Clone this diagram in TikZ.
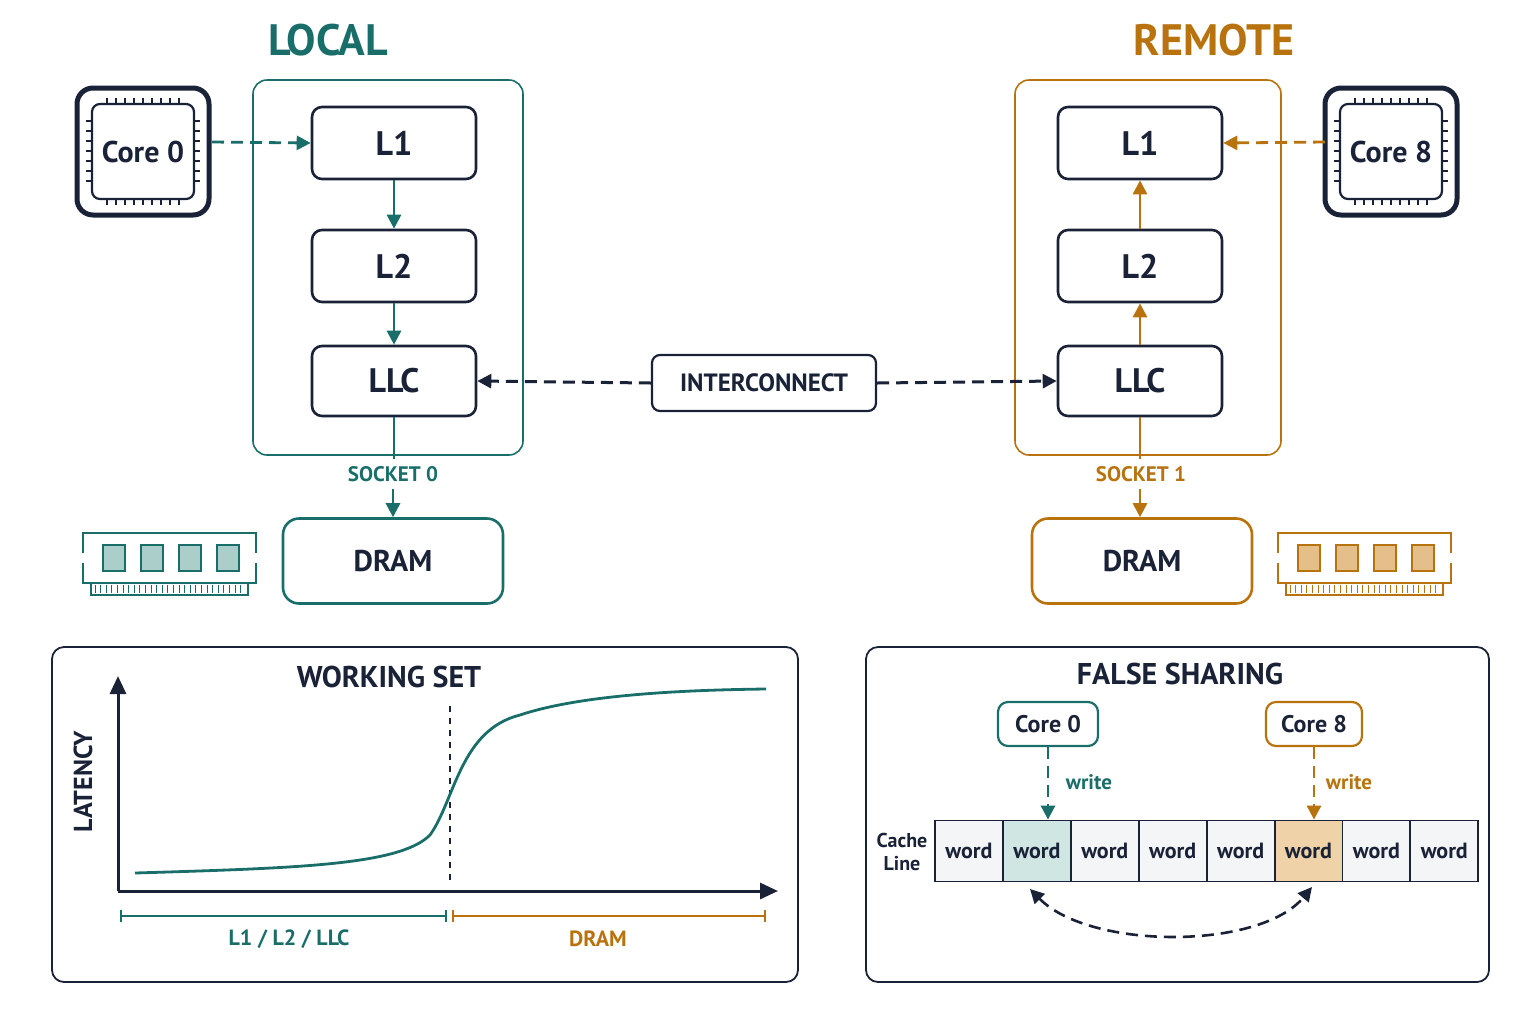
\documentclass[tikz,border=0pt]{standalone}
\usepackage{fontspec}
\setmainfont{PT Sans}
\usetikzlibrary{arrows.meta}
\definecolor{teal}{HTML}{1A6E6A}
\definecolor{org}{HTML}{B8730F}
\definecolor{navy}{HTML}{1A2238}
\definecolor{tfill}{HTML}{CFE6E3}
\definecolor{ofill}{HTML}{EFD2A8}
\definecolor{cell}{HTML}{F4F5F6}
\tikzset{
 cache/.style={draw=navy,line width=1.3pt,rounded corners=5pt,fill=white,font=\bfseries\fontsize{17}{17}\selectfont,text=navy},
 sock/.style={line width=0.8pt,rounded corners=7pt},
 dram/.style={line width=1.3pt,rounded corners=8pt,font=\bfseries\fontsize{15}{15}\selectfont,text=navy},
 arr/.style={-{Triangle[length=7pt,width=7pt]},line width=1.4pt},
 dsh/.style={dash pattern=on 6pt off 3.5pt},
 lbl/.style={font=\bfseries\fontsize{10.5}{10.5}\selectfont},
 panel/.style={draw=navy,line width=0.9pt,rounded corners=6pt},
}
\begin{document}
\begin{tikzpicture}[x=0.5pt,y=-0.5pt]
\useasboundingbox (0,0) rectangle (1536,1024);
% titles
\node[font=\bfseries\fontsize{22}{22}\selectfont,text=teal] (tl) at (328,40) {LOCAL};
\node[font=\bfseries\fontsize{22}{22}\selectfont,text=org] (tr) at (1214,40) {REMOTE};
% socket boxes
\draw[sock,teal] (253,80) rectangle (523,455);
\draw[sock,org] (1015,80) rectangle (1281,455);
% caches
\node[cache,minimum width=82pt,minimum height=36pt] (l1a) at (394,143) {L1};
\node[cache,minimum width=82pt,minimum height=36pt] (l2a) at (394,266) {L2};
\node[cache,minimum width=82pt,minimum height=35pt] (llca) at (394,381) {LLC};
\draw[arr,teal] (l1a) -- (l2a);
\draw[arr,teal] (l2a) -- (llca);
\node[cache,minimum width=82pt,minimum height=36pt] (l1b) at (1140,143) {L1};
\node[cache,minimum width=82pt,minimum height=36pt] (l2b) at (1140,266) {L2};
\node[cache,minimum width=82pt,minimum height=35pt] (llcb) at (1140,381) {LLC};
\draw[arr,org] (l2b) -- (l1b);
\draw[arr,org] (llcb) -- (l2b);
% sockets labels and DRAM
\node[lbl,text=teal] (s0) at (393,474) {SOCKET 0};
\node[lbl,text=org] (s1) at (1141,474) {SOCKET 1};
\node[dram,draw=teal,minimum width=110pt,minimum height=42.5pt] (da) at (393,561) {DRAM};
\node[dram,draw=org,minimum width=110pt,minimum height=42.5pt] (db) at (1142,561) {DRAM};
\draw[teal,line width=1.4pt] (llca.south) -- (llca.south |- s0.north);
\draw[arr,teal] (s0.south -| da.north) -- (da.north);
\draw[org,line width=1.4pt] (llcb.south) -- (llcb.south |- s1.north);
\draw[arr,org] (s1.south -| llcb.south) -- (llcb.south |- db.north);
% chips
\foreach \cx/\nm/\lab in {143/ca/Core 0,1391/cb/Core 8}{
 \draw[navy,line width=2.5pt,rounded corners=8pt] (\cx-66,88) rectangle (\cx+66,215);
 \draw[navy,line width=1.1pt,rounded corners=4pt] (\cx-51,104) rectangle (\cx+51,199);
 \foreach \i in {-4,...,4}{
  \draw[navy,line width=0.6pt] (\cx+\i*9,98) -- (\cx+\i*9,104);
  \draw[navy,line width=0.6pt] (\cx+\i*9,199) -- (\cx+\i*9,205);}
 \foreach \i in {-3,...,3}{
  \draw[navy,line width=0.6pt] (\cx-57,151+\i*10) -- (\cx-51,151+\i*10);
  \draw[navy,line width=0.6pt] (\cx+51,151+\i*10) -- (\cx+57,151+\i*10);}
 \node[font=\fontsize{15}{15}\selectfont\bfseries,text=navy] (\nm) at (\cx,152) {\lab};
}
\coordinate (cao) at (212,142);
\coordinate (cbo) at (1325,142);
\draw[arr,dsh,teal] (cao) -- (l1a.west);
\draw[arr,dsh,org] (cbo) -- (l1b.east);
% interconnect
\node[draw=navy,line width=1.1pt,rounded corners=4pt,minimum width=112pt,minimum height=28pt,font=\bfseries\fontsize{12.5}{12.5}\selectfont,text=navy] (ic) at (764,383) {INTERCONNECT};
\draw[arr,dsh,navy,line width=1.5pt] (ic.west) -- (llca.east);
\draw[arr,dsh,navy,line width=1.5pt] (ic.east) -- (llcb.west);
% RAM icons
\foreach \x/\c/\f in {83/teal/tfill,1278/org/ofill}{
 \draw[\c,line width=1.2pt] (\x,533) rectangle (\x+173,583);
 \draw[\c,line width=0.9pt] (\x+8,583) rectangle (\x+165,595);
 \foreach \k in {0,...,26} \draw[\c,line width=0.5pt] (\x+12+\k*5.6,585) -- (\x+12+\k*5.6,593);
 \foreach \k in {0,...,3} \draw[\c,fill=\f!80!\c,line width=1.2pt] (\x+20+\k*38,545) rectangle (\x+42+\k*38,571);
 \fill[white] (\x-2,553) rectangle (\x+3,563);
 \fill[white] (\x+170,553) rectangle (\x+175,563);
}
% working set panel
\draw[panel] (52,647) rectangle (798,982);
\node[font=\bfseries\fontsize{15}{15}\selectfont,text=navy] (ws) at (389,677) {WORKING SET};
\coordinate (o) at (118,891);
\coordinate (yt) at (118,676);
\coordinate (xt) at (778,891);
\draw[navy,line width=1.5pt,-{Triangle[length=9pt,width=8pt]}] (o) -- (yt);
\draw[navy,line width=1.5pt,-{Triangle[length=9pt,width=8pt]}] (o) -- (xt);
\node[rotate=90,font=\bfseries\fontsize{13}{13}\selectfont,text=navy] (lat) at (83,782) {LATENCY};
\draw[navy,dashed,line width=0.8pt] (450,706) -- (450,884);
\draw[teal,line width=1.4pt] (135,873) .. controls (300,868) and (400,865) .. (430,835)
 .. controls (455,800) and (460,730) .. (520,715) .. controls (580,695) and (680,690) .. (766,689);
\draw[teal,line width=1pt] (121,916) -- (446,916) (121,910) -- (121,922) (446,910) -- (446,922);
\draw[org,line width=1pt] (453,916) -- (765,916) (453,910) -- (453,922) (765,910) -- (765,922);
\node[text=teal,font=\bfseries\fontsize{11}{11}\selectfont] (rl) at (289,939) {L1 / L2 / LLC};
\node[text=org,font=\bfseries\fontsize{11}{11}\selectfont] (rd) at (598,939) {DRAM};
% false sharing panel
\draw[panel] (866,647) rectangle (1489,982);
\node[font=\bfseries\fontsize{15}{15}\selectfont,text=navy] (fs) at (1180,674) {FALSE SHARING};
\node[draw=teal,line width=1.1pt,rounded corners=5pt,minimum width=50pt,minimum height=22pt,font=\bfseries\fontsize{12}{12}\selectfont,text=navy] (fc0) at (1048,724) {Core 0};
\node[draw=org,line width=1.1pt,rounded corners=5pt,minimum width=48pt,minimum height=22pt,font=\bfseries\fontsize{12}{12}\selectfont,text=navy] (fc8) at (1314,724) {Core 8};
\foreach \i/\f in {0/cell,1/tfill,2/cell,3/cell,4/cell,5/ofill,6/cell,7/cell}{
 \node[draw=navy,line width=0.9pt,fill=\f,minimum width=33.9pt,minimum height=30.5pt,inner sep=0pt,font=\fontsize{11}{11}\selectfont\bfseries,text=navy] (w\i) at (969+\i*67.9,851) {word};
}
\draw[arr,dsh,teal] (fc0.south) -- (fc0.south |- w1.north);
\draw[arr,dsh,org] (fc8.south) -- (fc8.south |- w5.north);
\node[font=\fontsize{10.5}{10.5}\selectfont\bfseries,text=teal] (wr0) at (1089,782) {write};
\node[font=\fontsize{10.5}{10.5}\selectfont\bfseries,text=org] (wr8) at (1349,782) {write};
\node[align=center,font=\fontsize{10}{11.5}\selectfont\bfseries,text=navy] (cl) at (902,852) {Cache\\Line};
\coordinate (ca1) at (1030,889);
\coordinate (ca2) at (1312,887);
\draw[navy,dsh,line width=1.3pt,{Triangle[length=7pt,width=7pt]}-{Triangle[length=7pt,width=7pt]}] (ca1) .. controls (1090,950) and (1260,950) .. (ca2);
\end{tikzpicture}
\end{document}
